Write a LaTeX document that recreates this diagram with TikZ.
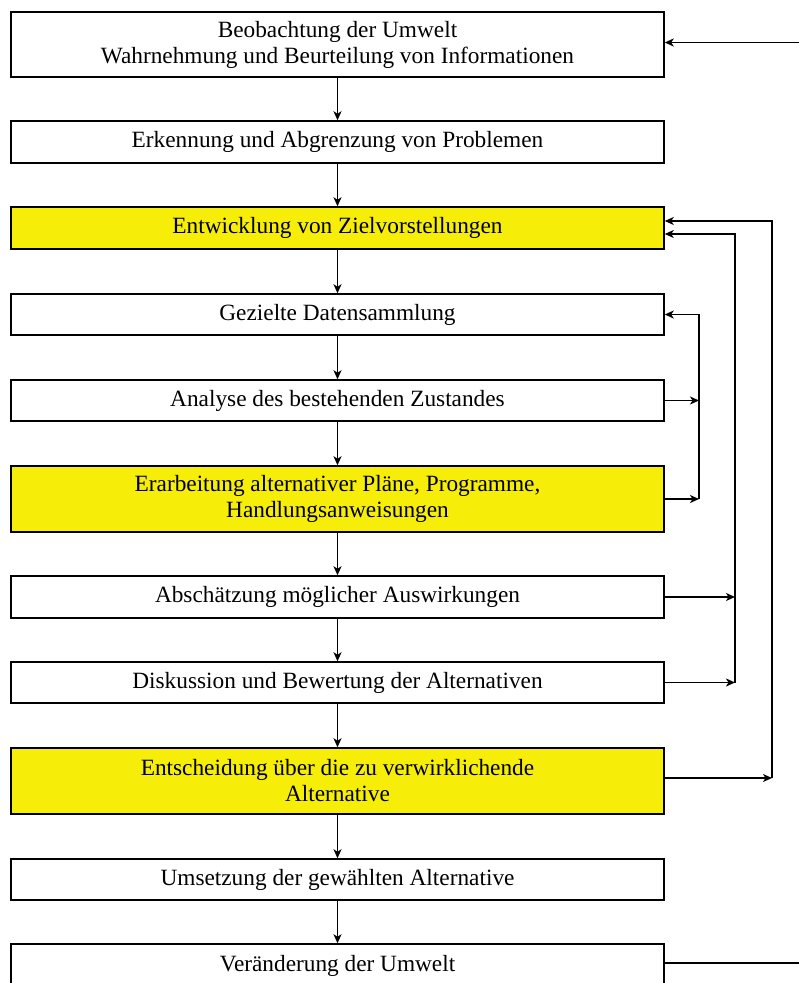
\documentclass[tikz,border=0pt]{standalone}
\usepackage{fontspec}
\setmainfont{Liberation Serif}
\usetikzlibrary{arrows.meta}
\definecolor{boxyellow}{RGB}{246,238,8}
\tikzset{
  stagebox/.style={draw=black, line width=1.5pt, fill=white, minimum width=653pt,
    inner sep=0pt, align=center, font=\fontsize{23.3}{26}\selectfont},
  keybox/.style={stagebox, fill=boxyellow},
  flow/.style={line width=1.4pt, -{Stealth[length=9pt,width=8pt,inset=2.5pt]}},
}
\begin{document}
\begin{tikzpicture}[x=1pt,y=-1pt]
\useasboundingbox (0,0) rectangle (799,983);
\clip (0,0) rectangle (799,983);
\fill[white] (0,0) rectangle (799,983);

% process stages (centre y = middle of each box)
\node[stagebox, minimum height=65pt] (b1) at (337.5,44.5)
  {Beobachtung der Umwelt\\Wahrnehmung und Beurteilung von Informationen};
\node[stagebox, minimum height=42pt] (b2) at (337.5,142) {Erkennung und Abgrenzung von Problemen};
\node[keybox, minimum height=42pt] (b3) at (337.5,228) {Entwicklung von Zielvorstellungen};
\node[stagebox, minimum height=41pt] (b4) at (337.5,314.5) {Gezielte Datensammlung};
\node[stagebox, minimum height=41pt] (b5) at (337.5,400.5) {Analyse des bestehenden Zustandes};
\node[keybox, minimum height=66pt] (b6) at (337.5,499)
  {Erarbeitung alternativer Pläne, Programme,\\Handlungsanweisungen};
\node[stagebox, minimum height=42pt] (b7) at (337.5,597) {Abschätzung möglicher Auswirkungen};
\node[stagebox, minimum height=41pt] (b8) at (337.5,682.5) {Diskussion und Bewertung der Alternativen};
\node[keybox, minimum height=66pt] (b9) at (337.5,781)
  {Entscheidung über die zu verwirklichende\\Alternative};
\node[stagebox, minimum height=41pt] (b10) at (337.5,879.5) {Umsetzung der gewählten Alternative};
\node[stagebox, minimum height=44pt] (b11) at (337.5,966) {Veränderung der Umwelt};

% main sequence
\foreach \a/\b in {b1/b2,b2/b3,b3/b4,b4/b5,b5/b6,b6/b7,b7/b8,b8/b9,b9/b10,b10/b11}
  \draw[flow] (\a.south) -- (\b.north);

% feedback rails
\coordinate (railA) at (699,0);
\coordinate (railB) at (735,0);
\coordinate (railC) at (772,0);
\coordinate (railD) at (900,0);

\draw[flow] (b5.east) -- (b5.east -| railA);
\draw[flow] (b6.east) -- (b6.east -| railA);
\draw[flow] (b6.east -| railA) |- (b4.east);

\draw[flow] (b7.east) -- (b7.east -| railB);
\draw[flow] (b8.east) -- (b8.east -| railB);
\draw[flow] (b8.east -| railB) |- ([yshift=-6pt]b3.east);

\draw[flow] ([yshift=3pt]b9.east) -- ([yshift=3pt]b9.east -| railC);
\draw[flow] ([yshift=3pt]b9.east -| railC) |- ([yshift=7pt]b3.east);

\draw[flow] ([yshift=3pt]b11.east) -- ([yshift=3pt]b11.east -| railD) |- ([yshift=2pt]b1.east);
\end{tikzpicture}
\end{document}
